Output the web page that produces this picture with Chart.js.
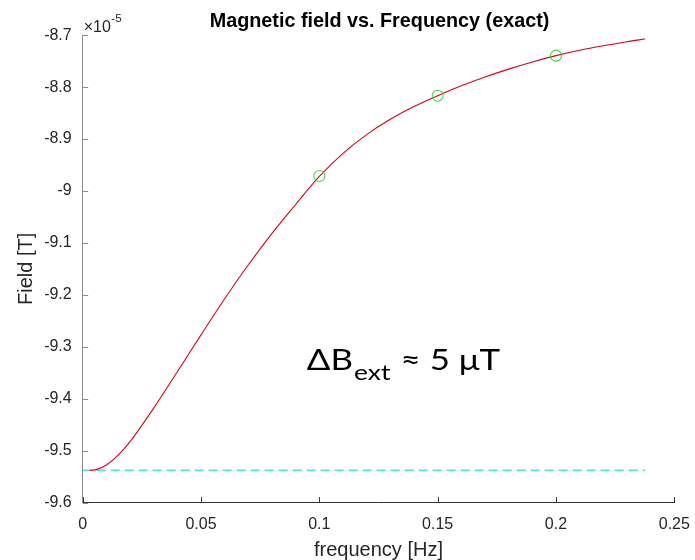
<!DOCTYPE html>
<html><head><meta charset="utf-8">
<script src="https://cdn.jsdelivr.net/npm/chart.js@4.4.1/dist/chart.umd.min.js"></script>
<style>html,body{margin:0;padding:0;background:#fff}#wrap{width:695px;height:560px;position:relative}</style>
</head><body><div id="wrap"><canvas id="c" width="695" height="560"></canvas></div>
<script>
// ---- data (field values in units of 1e-5 T) ----
const curveFreq = [0.003,0.006,0.01,0.015,0.02,0.03,0.04,0.05,0.06,0.07,0.08,0.09,0.1,0.11,0.12,0.13,0.14,0.15,0.16,0.17,0.18,0.19,0.2,0.21,0.22,0.23,0.2377];
const curveField = [-9.538,-9.536,-9.5275,-9.5085,-9.4825,-9.418,-9.348,-9.277,-9.2075,-9.142,-9.0815,-9.026,-8.972,-8.9275,-8.8915,-8.862,-8.8375,-8.8165,-8.7975,-8.7805,-8.7653,-8.7515,-8.7393,-8.729,-8.7203,-8.7125,-8.7073];
const markerFreq = [0.1,0.15,0.2];
const markerField = [-8.971,-8.8165,-8.7394];
const baseFreq = [0,0.2377];
const baseField = [-9.538,-9.538];
const xTickValues = [0,0.05,0.1,0.15,0.2,0.25];
const xTickLabels = ['0','0.05','0.1','0.15','0.2','0.25'];
const yTickValues = [-9.6,-9.5,-9.4,-9.3,-9.2,-9.1,-9.0,-8.9,-8.8,-8.7];
const yTickLabels = ['-9.6','-9.5','-9.4','-9.3','-9.2','-9.1','-9','-8.9','-8.8','-8.7'];
const titleText = 'Magnetic field vs. Frequency (exact)';
const xTitle = 'frequency [Hz]';
const yTitle = 'Field [T]';
const annotation = {x:0.0947, y:-9.3446, main:'\u0394B', sub:'ext', rest:' \u2248 5 \u03bcT'};

const pts = (xs, ys) => xs.map((x,i)=>({x, y: ys[i]}));
const FONT = '"Liberation Sans", Arial, sans-serif';

const decor = {
  id:'decor',
  afterDatasetsDraw(chart){
    const ctx = chart.ctx, xs = chart.scales.x, ys = chart.scales.y, a = chart.chartArea;
    ctx.save();
    // inward ticks
    ctx.lineWidth = 1;
    ctx.strokeStyle = '#8a8a8a';
    ys.ticks.forEach(t=>{const y=Math.round(ys.getPixelForValue(t.value))+0.5;ctx.beginPath();ctx.moveTo(a.left,y);ctx.lineTo(a.left+5.5,y);ctx.stroke();});
    ctx.strokeStyle = '#333';
    xs.ticks.forEach(t=>{const x=Math.round(xs.getPixelForValue(t.value))+0.5;ctx.beginPath();ctx.moveTo(x,a.bottom);ctx.lineTo(x,a.bottom-5.5);ctx.stroke();});
    // title centred over the axes
    ctx.fillStyle = '#000';
    ctx.textAlign = 'center';
    ctx.textBaseline = 'alphabetic';
    ctx.font = 'bold 19.8px ' + FONT;
    ctx.fillText(titleText, (a.left + a.right)/2 + 1, a.top - 8.5);
    // exponent label
    ctx.fillStyle = '#262626';
    ctx.textAlign = 'left';
    ctx.font = '16px ' + FONT;
    const ex = a.left + 1, ey = a.top - 3.5;
    ctx.fillText('\u00d710', ex, ey);
    const w = ctx.measureText('\u00d710').width;
    ctx.font = '11.5px ' + FONT;
    ctx.fillText('-5', ex + w + 0.5, ey - 10);
    // annotation
    const px = xs.getPixelForValue(annotation.x), py = ys.getPixelForValue(annotation.y);
    ctx.translate(px, py);
    ctx.scale(1.2, 1);
    ctx.fillStyle = '#000';
    ctx.font = '29px Lato, sans-serif';
    ctx.fillText(annotation.main, 0, 0);
    let cx = ctx.measureText(annotation.main).width + 1;
    ctx.font = '22px Lato, sans-serif';
    ctx.fillText(annotation.sub, cx, 10);
    cx += ctx.measureText(annotation.sub).width + 1;
    ctx.font = '29px Lato, sans-serif';
    ctx.fillText(annotation.rest, cx, 0);
    ctx.restore();
  }
};

new Chart(document.getElementById('c'), {
  type:'scatter',
  data:{datasets:[
    {data:pts(baseFreq, baseField), showLine:true, borderColor:'#4fe3e3', borderWidth:1.6, borderDash:[9,5], pointRadius:0, order:3},
    {data:pts(curveFreq, curveField), showLine:true, borderColor:'#d9001b', borderWidth:1.1, pointRadius:0, cubicInterpolationMode:'monotone', order:2},
    {data:pts(markerFreq, markerField), showLine:false, borderColor:'#3fd43f', backgroundColor:'rgba(0,0,0,0)', borderWidth:1.1, pointRadius:5.5, pointStyle:'circle', order:1}
  ]},
  options:{
    responsive:false, animation:false, devicePixelRatio:1,
    layout:{padding:{left:0,right:20.7,top:35.2,bottom:0}},
    plugins:{ legend:{display:false}, tooltip:{enabled:false}, title:{display:false} },
    scales:{
      x:{type:'linear', min:0, max:0.25,
        afterBuildTicks(s){s.ticks = xTickValues.map(v=>({value:v}));},
        afterFit(s){s.height = 57.4; s.paddingRight = 0; s.paddingLeft = 0;},
        ticks:{padding:12.5, color:'#262626', font:{family:FONT, size:16}, maxRotation:0, callback:(v,i)=>xTickLabels[i]},
        grid:{display:false, drawTicks:false},
        border:{display:true, color:'#333', width:1},
        title:{display:true, text:xTitle, color:'#262626', font:{family:FONT, size:20, lineHeight:1}, padding:{top:0,bottom:-0.5}}
      },
      y:{type:'linear', min:-9.6, max:-8.7,
        afterBuildTicks(s){s.ticks = yTickValues.map(v=>({value:v}));},
        afterFit(s){s.width = 82.7;},
        ticks:{padding:11, color:'#262626', font:{family:FONT, size:16}, callback:(v,i)=>yTickLabels[i]},
        grid:{display:false, drawTicks:false},
        border:{display:true, color:'#8a8a8a', width:1},
        title:{display:true, text:yTitle, color:'#262626', font:{family:FONT, size:20, lineHeight:1}, padding:{top:16.3,bottom:0}}
      }
    }
  },
  plugins:[decor]
});
</script></body></html>
